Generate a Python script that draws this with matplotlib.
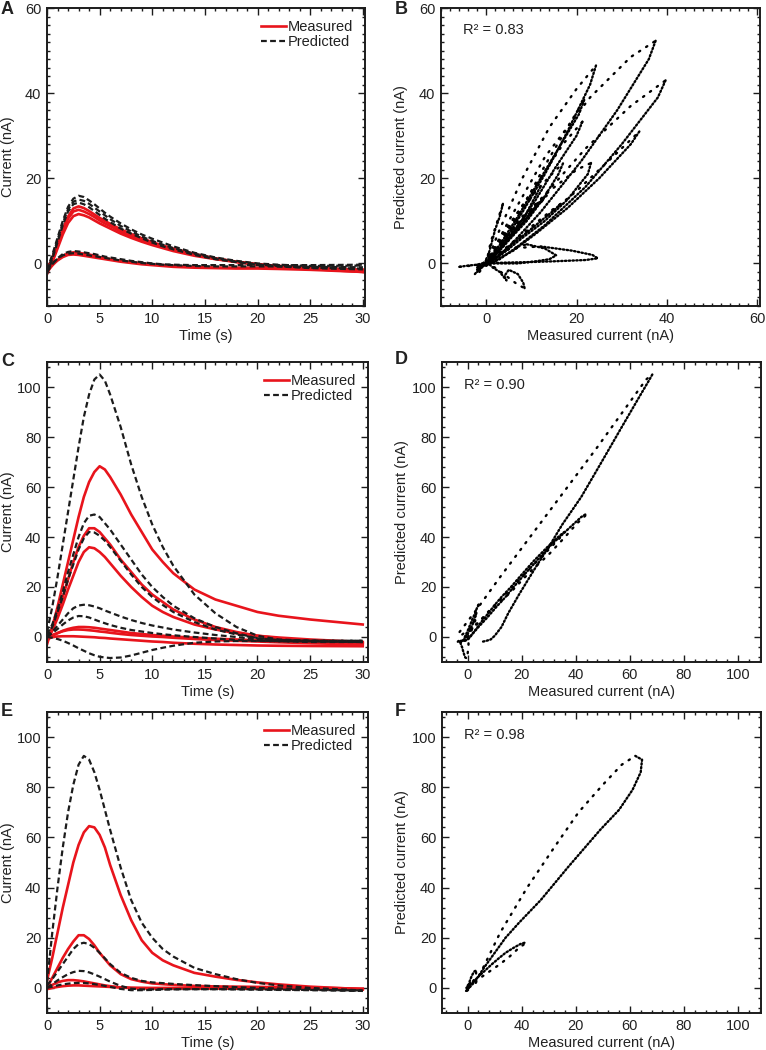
import matplotlib.pyplot as plt
from matplotlib.ticker import MultipleLocator, FixedLocator, FixedFormatter
from matplotlib.lines import Line2D

plt.rcParams['font.family'] = ['Liberation Sans', 'DejaVu Sans']
plt.rcParams['font.size'] = 10.5
plt.rcParams['text.color'] = '#222222'
plt.rcParams['axes.labelcolor'] = '#222222'

# time grid (s) shared by all traces of panels A, C, E
t = [0, 0.5, 1, 1.5, 2, 2.5, 3, 3.5, 4, 4.5, 5, 5.5, 6, 7, 8, 9, 10, 11, 12, 14, 16, 18, 20, 22, 25, 30]

# panel A traces (nA)
a_measured = [
    [-2, 1, 4.5, 8, 11, 12.9, 13.4, 13.0, 12.3, 11.5, 10.7, 10.0, 9.3, 8.0, 6.9, 5.9, 5.0, 4.2, 3.5, 2.2, 1.2, 0.4, -0.2, -0.6, -1.2, -1.8],
    [-1.5, 1.2, 4.5, 7.8, 10.5, 12.2, 12.6, 12.2, 11.6, 10.9, 10.1, 9.4, 8.8, 7.5, 6.4, 5.5, 4.6, 3.9, 3.2, 2.0, 1.1, 0.4, -0.2, -0.6, -1.0, -1.5],
    [-2.5, 0.2, 3.5, 6.8, 9.5, 11.1, 11.6, 11.3, 10.8, 10.1, 9.4, 8.8, 8.2, 7.0, 6.0, 5.1, 4.3, 3.6, 2.9, 1.8, 1.0, 0.3, -0.3, -0.8, -1.3, -2.0],
    [-2, -0.5, 0.8, 1.8, 2.4, 2.6, 2.5, 2.3, 2.1, 1.8, 1.5, 1.2, 1.0, 0.6, 0.3, 0.0, -0.2, -0.4, -0.6, -0.8, -1.0, -1.0, -1.0, -1.1, -1.2, -1.5],
    [-1.5, -0.3, 0.7, 1.5, 2.0, 2.1, 2.0, 1.8, 1.6, 1.4, 1.2, 1.0, 0.8, 0.4, 0.1, -0.2, -0.4, -0.6, -0.8, -1.0, -1.1, -1.2, -1.2, -1.3, -1.5, -2.0],
]
a_predicted = [
    [-1.5, 2, 6, 10, 13.3, 15.2, 15.9, 15.6, 14.8, 13.9, 12.9, 11.9, 11.0, 9.4, 8.0, 6.8, 5.8, 4.9, 4.0, 2.5, 1.4, 0.6, 0.0, -0.3, -0.6, -0.5],
    [-2, 1.5, 5.5, 9.5, 12.7, 14.5, 15.0, 14.7, 14.0, 13.1, 12.2, 11.3, 10.4, 8.8, 7.5, 6.3, 5.3, 4.4, 3.6, 2.3, 1.2, 0.4, -0.2, -0.6, -1.0, -1.2],
    [-2.5, 1, 5, 9, 12.2, 13.9, 14.3, 13.9, 13.2, 12.3, 11.4, 10.5, 9.7, 8.2, 7.0, 5.9, 4.9, 4.0, 3.3, 2.0, 1.0, 0.3, -0.3, -0.7, -1.1, -1.4],
    [-2, -0.2, 1.2, 2.2, 2.7, 2.9, 2.8, 2.6, 2.4, 2.2, 1.9, 1.6, 1.4, 1.0, 0.6, 0.3, 0.0, -0.2, -0.3, -0.4, -0.4, -0.4, -0.4, -0.4, -0.4, -0.3],
    [-1.5, 0, 1.1, 1.9, 2.3, 2.4, 2.3, 2.1, 1.9, 1.7, 1.5, 1.3, 1.1, 0.7, 0.4, 0.1, -0.1, -0.3, -0.4, -0.6, -0.7, -0.7, -0.7, -0.7, -0.8, -0.9],
]

# further trials shown only in panel B (coarser time grid)
t_b = [0, 1, 2, 3, 4, 5, 6, 8, 10, 13, 16, 20, 25, 30]
b_extra_measured = [
    [0, 5, 13, 23, 32, 37.5, 36, 29, 21, 12, 6, 2.5, 0.5, 0],
    [0, 4, 12, 22, 32, 39.7, 38, 30, 22, 13, 7, 3, 1, 0],
    [0, 3, 8, 14, 20, 24.3, 23, 18, 13, 8, 4.5, 2, 0.5, 0],
    [0, 3, 8, 13, 18, 21.7, 20.5, 16, 11.5, 7, 4, 1.5, 0.5, 0],
    [0, 5, 12, 20, 28, 33.9, 32, 25, 18, 11, 6, 2.5, 1, 0],
    [0, 3, 7, 12, 17, 21.3, 20, 15, 11, 6.5, 3.5, 1.5, 0.5, 0],
    [0, 3, 8, 14, 20, 23.2, 22.5, 18, 13, 8, 4.5, 2, 0.5, 0],
    [0, 5, 12, 19, 23.5, 24.7, 22, 15, 9, 4.5, 2, 0.5, 0, 0],
    [0, 4, 9, 13, 15.5, 14, 11, 7, 4, 2, 1, 0.5, 0, 0],
    [0, 2, 4.5, 7, 8.5, 8.2, 7, 5, 4, 4.5, 3, 1.5, 0.5, 0],
    [0, -3, -5.9, -4, -2, -1, 0, 0, 0, 0, 0, 0, 0, 0],
    [0, 1, 2.5, 3.7, 3, 2, 1.5, 1, 0.5, 0, 0, 0, 0, 0],
    [0, 3, 7, 11, 15, 17, 16, 12.5, 9, 5.5, 3, 1, 0.3, 0],
    [0, 2, 5, 8, 10.5, 12, 11, 8.5, 6, 3.5, 2, 0.5, 0, 0],
    [0, 3, 7, 11, 14.5, 16.5, 15, 11, 7.5, 4, 2, 0.5, 0, 0],
]
b_extra_predicted = [
    [0, 10, 25, 39, 48.5, 52.3, 48, 36, 24, 12, 5, 1.5, 0, -0.5],
    [0, 6, 15, 27, 37, 43, 39, 28, 18, 9, 4, 1, 0, -0.5],
    [0, 8, 20, 32, 41, 46.5, 42, 31, 21, 12, 6, 2, 0.5, 0],
    [0, 5, 13, 23, 32, 38.4, 35, 27, 19, 11, 6, 2, 0.5, 0],
    [0, 4, 10, 17, 25, 31, 28, 20, 13, 7, 3, 1, 0, -0.5],
    [0, 5, 12, 20, 28, 33.3, 30, 22, 15, 8, 4, 1.5, 0.5, 0],
    [0, 5, 11, 17, 22, 23.6, 21, 15, 10, 6, 3, 1, 0, 0],
    [0, 3.5, 4, 3, 2, 1.2, 0.8, 0.5, 0.3, 0.2, 0.1, 0, 0, 0],
    [0, 3, 4.5, 3.5, 1.9, 1, 0.5, 0, 0, 0, 0, 0, 0, 0],
    [0, -1, -3, -5, -5.8, -4.5, -2.5, -1.5, -3, -4, -2, -1, 0, 0],
    [0, -0.5, -0.8, -0.5, -0.3, 0, 0, 0, 0, 0, 0, 0, 0, 0],
    [0, 5, 10, 14, 11, 8, 6, 4, 2, 1, 0.5, 0, 0, 0],
    [0, 5, 11, 17, 21.5, 23.5, 21, 15, 10, 6, 3, 1, 0, 0],
    [0, 4, 9, 13.5, 16.5, 18, 16, 11, 7.5, 4, 2, 0.5, 0, 0],
    [0, 2.5, 6, 9.5, 12.5, 14, 12.5, 9, 6, 3, 1.5, 0.5, 0, 0],
]

# panel C traces (nA)
c_measured = [
    [-3, 4, 12, 21, 30, 39, 48, 56, 62, 66, 68.3, 67, 64, 57, 49, 42, 35, 30, 25.5, 19, 15, 12.5, 10, 8.5, 7, 5],
    [-2, 3, 9, 16, 23, 30, 36, 40.5, 43.5, 43.5, 42, 39.5, 37, 31, 26, 21, 17, 14, 11, 7, 4, 2, 0.5, -0.5, -1.5, -2.5],
    [-1, 2.5, 7.5, 13, 19, 24.5, 30, 34, 35.9, 35.5, 34, 32, 29.5, 24.5, 20, 16, 12.5, 10, 8, 5, 3, 1.5, 0.5, -0.2, -1, -2],
    [-1, 0.5, 1.5, 2.5, 3.2, 3.7, 4.0, 4.0, 3.9, 3.7, 3.4, 3.1, 2.8, 2.2, 1.6, 1.2, 0.8, 0.5, 0.2, -0.3, -0.7, -1, -1.3, -1.6, -2, -2.5],
    [0, 0.8, 1.6, 2.3, 2.8, 3.0, 3.0, 2.9, 2.7, 2.5, 2.2, 2.0, 1.7, 1.2, 0.8, 0.5, 0.2, 0, -0.3, -0.8, -1.2, -1.5, -1.8, -2.1, -2.5, -3],
    [-1, 0, 0.2, 0.3, 0.3, 0.3, 0.2, 0.1, 0, -0.1, -0.3, -0.4, -0.6, -0.9, -1.2, -1.5, -1.8, -2.0, -2.3, -2.7, -3.0, -3.2, -3.4, -3.5, -3.6, -3.7],
]
c_predicted = [
    [2, 12, 24, 37, 50, 63, 76, 88, 97, 103, 105, 102.5, 97, 84, 69, 56, 45, 36, 28.5, 17, 9.5, 4, 0.5, -1, -1.5, -2],
    [1, 5, 11, 18, 26, 33, 40, 45.5, 48.5, 49, 48, 45.5, 43, 37, 31, 25, 20, 16, 12.5, 7.5, 4, 1.5, -0.5, -1.2, -1.5, -1.5],
    [0, 4, 10, 16, 23, 29, 35, 39.5, 42, 41.8, 40.5, 38.5, 36, 30.5, 25, 20, 16, 12.8, 10, 6, 3, 1, -0.5, -1.2, -1.5, -1.5],
    [0, 2, 4.5, 7, 9.5, 11.5, 12.6, 12.9, 12.7, 12.2, 11.5, 10.6, 9.8, 8.2, 6.8, 5.6, 4.6, 3.8, 3, 1.8, 0.8, 0, -1, -1.3, -1.5, -2],
    [0, 1.5, 3.2, 5, 6.6, 7.8, 8.4, 8.3, 7.8, 7.0, 6.2, 5.5, 4.8, 3.7, 2.8, 2.2, 1.6, 1.1, 0.7, 0, -0.6, -1.2, -1.5, -1.7, -2, -2],
    [0, -0.3, -0.8, -1.5, -2.4, -3.4, -4.5, -5.5, -6.5, -7.3, -7.9, -8.2, -8.4, -8.2, -7.4, -6.3, -5.2, -4.3, -3.5, -2.3, -1.8, -1.6, -1.6, -1.7, -1.8, -2],
]

# panel E traces (nA)
e_measured = [
    [3, 12, 22, 32, 41, 50, 57, 62, 64.5, 64, 61, 56, 49, 37, 27, 19, 14, 11, 9, 6, 4.5, 3.2, 2.2, 1.4, 0.5, -0.5],
    [0, 4, 8, 12, 15.5, 18.5, 21, 21, 19.5, 17, 14, 11.5, 9, 5.5, 3.5, 2.5, 1.8, 1.5, 1.2, 0.8, 0.6, 0.5, 0.4, 0.3, 0.1, -0.3],
    [0, 1.2, 2.2, 2.8, 3.1, 3.1, 2.9, 2.6, 2.2, 1.8, 1.4, 1.0, 0.7, 0.2, -0.1, -0.2, -0.2, -0.2, -0.2, -0.2, -0.2, -0.3, -0.3, -0.3, -0.4, -0.6],
    [-0.5, 0, 0.4, 0.7, 0.9, 1.0, 1.0, 0.9, 0.8, 0.7, 0.6, 0.5, 0.4, 0.2, 0.1, 0.05, 0, 0, 0, 0, -0.1, -0.1, -0.2, -0.2, -0.3, -0.5],
]
e_predicted = [
    [2, 22, 40, 56, 70, 81, 89, 92.5, 91, 86, 79, 71, 63, 48, 35, 26, 20, 15.5, 12.5, 8, 5.5, 3.5, 2, 1, 0, -1],
    [1, 3.5, 6.5, 9.5, 12.5, 15.5, 17.5, 18, 17.5, 16, 14, 11.8, 9.5, 6, 4, 2.8, 2.2, 1.9, 1.6, 1.1, 0.7, 0.3, 0, -0.2, -0.5, -1.2],
    [0, 1.5, 3, 4.3, 5.5, 6.3, 6.8, 6.7, 6.2, 5.4, 4.5, 3.5, 2.5, 0.8, -0.3, -0.6, -0.6, -0.5, -0.5, -0.5, -0.5, -0.6, -0.7, -0.8, -0.9, -1.2],
    [0, 0.5, 1, 1.4, 1.7, 1.9, 2.0, 2.0, 1.8, 1.5, 1.2, 0.8, 0.4, -0.4, -0.9, -0.9, -0.8, -0.7, -0.6, -0.5, -0.5, -0.5, -0.6, -0.7, -0.8, -1.0],
]

r2_text = ['R\u00b2 = 0.83', 'R\u00b2 = 0.90', 'R\u00b2 = 0.98']
f_xtick_pos = [0, 20, 40, 60, 80, 100]
f_xtick_labels = ['0', '40', '20', '60', '80', '100']

RED = '#e8141c'
INK = '#1c1c1c'

fig = plt.figure(figsize=(7.66, 10.5), dpi=100)
W, H = 766, 1050


def add_axes(left, top, right, bottom):
    return fig.add_axes([left / W, 1 - bottom / H, (right - left) / W, (bottom - top) / H])


def style(ax, xmaj, xmin, ymaj, ymin):
    ax.xaxis.set_major_locator(MultipleLocator(xmaj))
    ax.xaxis.set_minor_locator(MultipleLocator(xmin))
    ax.yaxis.set_major_locator(MultipleLocator(ymaj))
    ax.yaxis.set_minor_locator(MultipleLocator(ymin))
    ax.tick_params(which='both', direction='in', top=True, right=True,
                   color=INK, labelcolor='#222222', width=1.0)
    ax.tick_params(which='major', length=5, labelsize=10.5, pad=4)
    ax.tick_params(which='minor', length=2.5)
    for s in ax.spines.values():
        s.set_linewidth(1.4)
        s.set_color(INK)


def place_labels(ax, ylab_px):
    w = ax.get_position().width * W
    h = ax.get_position().height * H
    ax.yaxis.set_label_coords(-ylab_px / w, 0.5)
    ax.xaxis.set_label_coords(0.5, -23 / h)


def time_panel(ax, measured, predicted, ymin, ymax, yminor, xmax):
    for m in measured:
        ax.plot(t, m, color=RED, lw=1.9, solid_joinstyle='round')
    for p in predicted:
        ax.plot(t, p, color=INK, lw=1.6, dashes=(2.6, 1.5))
    ax.set_xlim(0, xmax)
    ax.set_ylim(ymin, ymax)
    style(ax, 5, 1, 20, yminor)
    ax.set_xlabel('Time (s)', fontsize=10.5, va='top')
    ax.set_ylabel('Current (nA)', fontsize=10.5, va='center')
    place_labels(ax, 39)
    handles = [Line2D([], [], color=RED, lw=1.9),
               Line2D([], [], color=INK, lw=1.6, dashes=(2.6, 1.5))]
    ax.legend(handles, ['Measured', 'Predicted'], loc='upper right', frameon=False,
              handlelength=1.7, handletextpad=0.15, labelspacing=0.1,
              borderaxespad=0.4, fontsize=10.5)


def loop(ax, m, p):
    # rising part: sparse dots, decaying part: dense dots
    k = p.index(max(p, key=abs))
    ax.plot(m[:k + 1], p[:k + 1], color='black', lw=1.7, dashes=(0.6, 3.0), dash_capstyle='round')
    ax.plot(m[k:], p[k:], color='black', lw=1.7, dashes=(0.6, 1.0), dash_capstyle='round')


def scatter_panel(ax, measured, predicted, xlim, ylim, minor, label):
    for m, p in zip(measured, predicted):
        loop(ax, m, p)
    ax.set_xlim(*xlim)
    ax.set_ylim(*ylim)
    style(ax, 20, minor, 20, minor)
    ax.set_xlabel('Measured current (nA)', fontsize=10.5, va='top')
    ax.set_ylabel('Predicted current (nA)', fontsize=10.5, va='center')
    place_labels(ax, 40)
    ax.text(0.07, 0.925, label, transform=ax.transAxes, fontsize=10.5, va='center')


axA = add_axes(47, 8, 365, 306)
axB = add_axes(441, 8, 760, 306)
axC = add_axes(47, 362, 368, 662)
axD = add_axes(442, 362, 761, 662)
axE = add_axes(47, 712, 368, 1013)
axF = add_axes(442, 712, 761, 1013)

time_panel(axA, a_measured, a_predicted, -10, 60, 2, 30.2)
time_panel(axC, c_measured, c_predicted, -10, 110, 4, 30.5)
time_panel(axE, e_measured, e_predicted, -10, 110, 4, 30.5)

scatter_panel(axB, a_measured + b_extra_measured, a_predicted + b_extra_predicted,
              (-10, 60.6), (-10, 60), 2, r2_text[0])
scatter_panel(axD, c_measured, c_predicted, (-9.5, 108.5), (-10, 110), 4, r2_text[1])
scatter_panel(axF, e_measured, e_predicted, (-9.5, 108.5), (-10, 110), 4, r2_text[2])
axF.xaxis.set_major_locator(FixedLocator(f_xtick_pos))
axF.xaxis.set_major_formatter(FixedFormatter(f_xtick_labels))

for letter, x, y in [('A', 1, 10), ('B', 395, 10), ('C', 1, 361), ('D', 395, 359),
                     ('E', 1, 711), ('F', 395, 711)]:
    fig.text(x / W, 1 - y / H, letter, fontsize=13, fontweight='bold', va='center', ha='left')

fig.savefig('out.png', dpi=100)
